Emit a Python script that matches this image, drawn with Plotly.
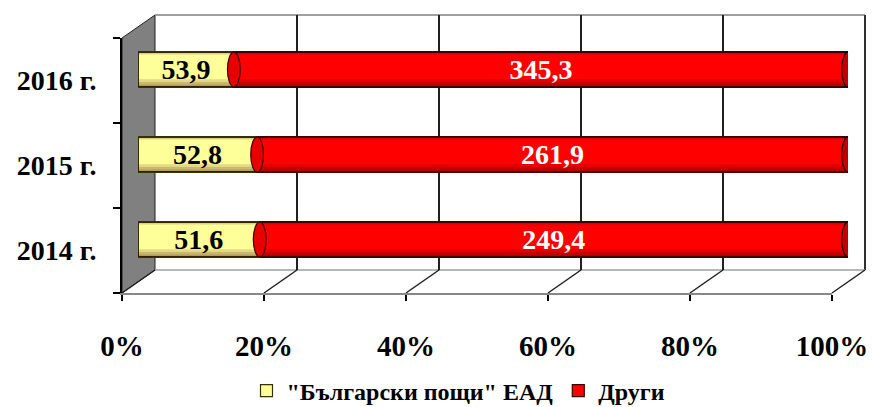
import plotly.graph_objects as go

categories = ["2014 г.", "2015 г.", "2016 г."]
bg_post = [51.6, 52.8, 53.9]
others = [249.4, 261.9, 345.3]
x_ticks = [0, 20, 40, 60, 80, 100]
series_names = ['"Български пощи" ЕАД', "Други"]

W, H = 873, 407
FONT = "Liberation Serif"

def px_x(v):
    return v / W

def px_y(v):
    return (H - v) / H

# geometry (pixels)
FX0, FX1 = 122, 832      # front plane
BX0, BX1 = 155, 865      # back wall
FY0, FY1 = 38, 293       # front y extent (top, bottom)
BY0, BY1 = 15, 270       # back y extent
MDX, MDY = 16, 11        # mid depth shift for bars
BW = 0.41                # bar thickness (category units)

fmt = lambda v: f"{v:.1f}".replace(".", ",")

fig = go.Figure()

# invisible trace for back wall axes (drawn first -> grid under bars)
fig.add_trace(go.Scatter(x=[0, 100], y=[0, 1], mode="markers", marker=dict(opacity=0),
                         xaxis="x", yaxis="y", showlegend=False, hoverinfo="skip"))
# invisible trace for front axes
fig.add_trace(go.Bar(x=[0, 0, 0], y=categories, orientation="h", marker=dict(opacity=0),
                     showlegend=False, hoverinfo="skip", xaxis="x3", yaxis="y3"))

fig.add_trace(go.Bar(
    y=categories, x=bg_post, orientation="h", name=series_names[0],
    marker=dict(color="#FFFF99", line=dict(color="#333300", width=1.2)),
    text=[fmt(v) for v in bg_post], textposition="inside", insidetextanchor="middle",
    textfont=dict(family=FONT, size=28, color="black", weight="bold"),
    constraintext="none", width=BW, xaxis="x2", yaxis="y2"))
fig.add_trace(go.Bar(
    y=categories, x=others, orientation="h", name=series_names[1],
    marker=dict(color="#FF0000", line=dict(color="#400000", width=1.2)),
    text=[fmt(v) for v in others], textposition="inside", insidetextanchor="middle",
    textfont=dict(family=FONT, size=28, color="white", weight="bold"),
    constraintext="none", width=BW, xaxis="x2", yaxis="y2"))

shapes = []
# left wall
shapes.append(dict(type="path", xref="paper", yref="paper", layer="below",
                   path=f"M {px_x(FX0)} {px_y(FY0)} L {px_x(BX0)} {px_y(BY0)} L {px_x(BX0)} {px_y(BY1)} L {px_x(FX0)} {px_y(FY1)} Z",
                   fillcolor="#808080", line=dict(color="#202020", width=1)))
# back wall top / right border
shapes.append(dict(type="line", xref="paper", yref="paper", x0=px_x(BX0), x1=px_x(BX1), y0=px_y(BY0), y1=px_y(BY0),
                   line=dict(color="#A0A0A0", width=2), layer="below"))
shapes.append(dict(type="line", xref="paper", yref="paper", x0=px_x(BX1), x1=px_x(BX1), y0=px_y(BY0), y1=px_y(BY1),
                   line=dict(color="#303030", width=2), layer="below"))
# floor back line
shapes.append(dict(type="line", xref="paper", yref="paper", x0=px_x(BX0), x1=px_x(BX1), y0=px_y(BY1), y1=px_y(BY1),
                   line=dict(color="#A0A0A0", width=1.5), layer="below"))
# floor diagonals
for t in x_ticks:
    bx = BX0 + (BX1 - BX0) * t / 100
    fx = FX0 + (FX1 - FX0) * t / 100
    shapes.append(dict(type="line", xref="paper", yref="paper", x0=px_x(bx), x1=px_x(fx), y0=px_y(BY1), y1=px_y(FY1),
                       line=dict(color="#202020", width=1.5), layer="below"))
# cylinder caps and shading
h = BW / 2
for i, c in enumerate(categories):
    share = bg_post[i] / (bg_post[i] + others[i]) * 100
    shapes.append(dict(type="circle", xref="x2", yref="y2", x0=-0.9, x1=0.9, y0=i - h, y1=i + h,
                       fillcolor="#FFFF99", line=dict(color="#333300", width=1.2), layer="below"))
    for k, frac in enumerate([0.22, 0.14, 0.07]):
        shapes.append(dict(type="rect", xref="x2", yref="y2", x0=0, x1=100, y0=i - h, y1=i - h + 2 * h * frac,
                           fillcolor="rgba(60,0,0,0.15)", line=dict(width=0), layer="above"))
    shapes.append(dict(type="rect", xref="x2", yref="y2", x0=0, x1=100, y0=i + h - 2 * h * 0.07, y1=i + h,
                       fillcolor="rgba(60,0,0,0.18)", line=dict(width=0), layer="above"))
    shapes.append(dict(type="circle", xref="x2", yref="y2", x0=share - 0.9, x1=share + 0.9, y0=i - h, y1=i + h,
                       fillcolor="#E80000", line=dict(color="#400000", width=1.2), layer="above"))
    shapes.append(dict(type="circle", xref="x2", yref="y2", x0=100 - 0.9, x1=100 + 0.9, y0=i - h, y1=i + h,
                       fillcolor="#C00000", line=dict(color="#200000", width=1.2), layer="above"))

fig.update_layout(
    width=W, height=H, margin=dict(l=0, r=0, t=0, b=0, autoexpand=False),
    paper_bgcolor="white", plot_bgcolor="rgba(0,0,0,0)",
    barmode="stack", barnorm="percent", bargap=0.5,
    font=dict(family=FONT, color="black"),
    showlegend=True,
    legend=dict(orientation="h", x=0.5 + 22 / W, xanchor="center", y=px_y(391), yanchor="middle",
                font=dict(family=FONT, size=24, weight="bold"), itemwidth=30, traceorder="normal"),
    shapes=shapes,
    # back wall (grid)
    xaxis=dict(domain=[px_x(BX0), px_x(BX1)], range=[0, 100], tickvals=x_ticks, showticklabels=False,
               showgrid=True, gridcolor="#202020", gridwidth=1.5, zeroline=False, ticks="",
               anchor="y", fixedrange=True, automargin=False),
    yaxis=dict(domain=[px_y(BY1), px_y(BY0)], range=[0, 1], visible=False, anchor="x",
               fixedrange=True, automargin=False),
    # bars (mid depth)
    xaxis2=dict(domain=[px_x(FX0 + MDX), px_x(FX1 + MDX)], range=[0, 100], visible=False,
                anchor="y2", fixedrange=True, automargin=False),
    yaxis2=dict(domain=[px_y(FY1 - MDY), px_y(FY0 - MDY)], type="category", categoryorder="array",
                categoryarray=categories, range=[-0.5, 2.5], visible=False, anchor="x2",
                fixedrange=True, automargin=False),
    # front axes
    xaxis3=dict(domain=[px_x(FX0), px_x(FX1)], range=[0, 100], tickvals=x_ticks,
                ticktext=[f"{t}%" for t in x_ticks], ticks="outside", ticklen=6, tickwidth=2,
                tickcolor="black", showline=True, linecolor="#888888", linewidth=2,
                showgrid=False, zeroline=False, anchor="y3", fixedrange=True, automargin=False,
                tickfont=dict(family=FONT, size=29, weight="bold"), ticklabelstandoff=20),
    yaxis3=dict(domain=[px_y(FY1), px_y(FY0)], type="category", categoryorder="array",
                categoryarray=categories, range=[-0.5, 2.5], tickson="boundaries",
                ticks="outside", ticklen=7, tickwidth=2, tickcolor="black",
                showline=True, linecolor="black", linewidth=2, showgrid=False, automargin=False,
                anchor="x3", tickfont=dict(family=FONT, size=28, weight="bold"),
                ticklabelstandoff=18, fixedrange=True),
)

fig.write_html("out.html")
